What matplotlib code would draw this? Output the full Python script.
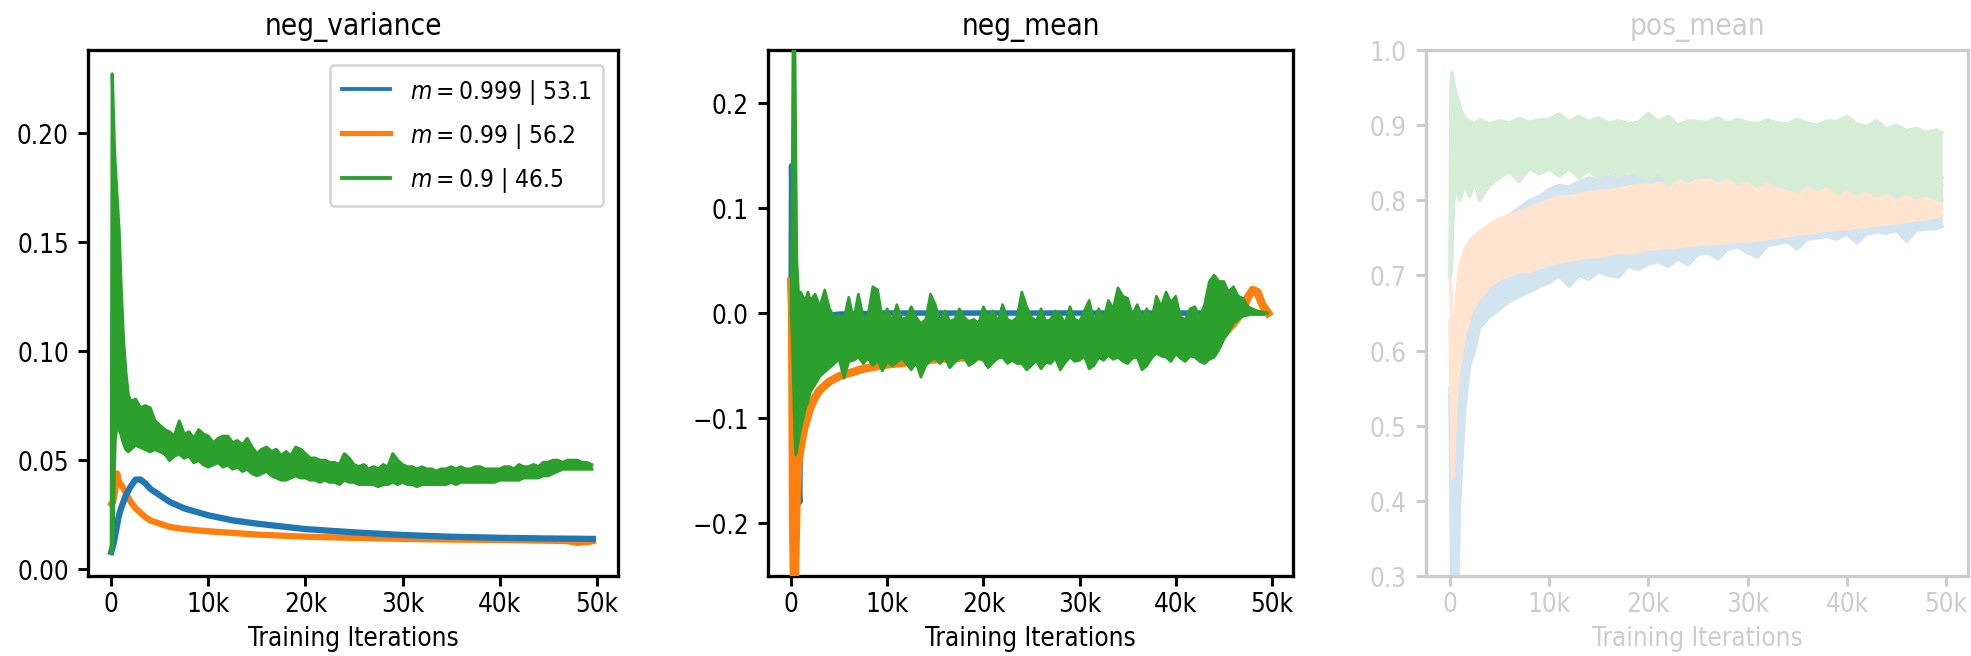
import numpy as np
import matplotlib
matplotlib.use("Agg")
import matplotlib.pyplot as plt
from matplotlib import font_manager
from matplotlib.lines import Line2D
from matplotlib.ticker import FuncFormatter
from matplotlib.colors import to_rgb

# ---------------------------------------------------------------- data
LABELS = [r"$m=0.999$ | 53.1", r"$m=0.99$ | 56.2", r"$m=0.9$ | 46.5"]
BLUE, ORANGE, GREEN = "#1f77b4", "#ff7f0e", "#2ca02c"

# logging steps from 5k on (every 500 iterations)
STEPS_500 = list(range(5000, 50000, 500))

# neg_variance: smooth curves
NV_BLUE_X = [0, 250, 500, 750, 1000, 1500, 2000, 2500, 3000, 3500, 4000, 5000,
             6000, 7500, 10000, 12500, 15000, 20000, 25000, 30000, 35000,
             40000, 45000, 49600]
NV_BLUE_Y = [0.008, 0.012, 0.018, 0.024, 0.028, 0.034, 0.038, 0.0412, 0.0412,
             0.0395, 0.037, 0.034, 0.031, 0.028, 0.0248, 0.0225, 0.021,
             0.0185, 0.017, 0.0158, 0.015, 0.0145, 0.0142, 0.014]
NV_ORANGE_X = [0, 200, 400, 600, 800, 1000, 1250, 1500, 2000, 2500, 3000,
               3500, 4000, 5000, 6000, 7500, 10000, 15000, 20000, 25000,
               30000, 35000, 40000, 45000, 47000, 48000, 49000, 49600]
NV_ORANGE_Y = [0.030, 0.031, 0.036, 0.044, 0.040, 0.039, 0.037, 0.035,
               0.031, 0.028, 0.026, 0.024, 0.0225, 0.021, 0.0195, 0.0185,
               0.0175, 0.016, 0.015, 0.0145, 0.014, 0.0137, 0.0135, 0.0132,
               0.013, 0.0122, 0.0125, 0.013]

# neg_variance: noisy m=0.9 run, extent of its fluctuation
NV_GREEN_X = [0, 100, 200, 300, 400, 600, 800, 1000, 1250, 1500, 1750, 2000,
              2500, 3000, 3500, 4000, 4500] + STEPS_500
NV_GREEN_HI = [0.008, 0.227, 0.210, 0.195, 0.185, 0.170, 0.155, 0.130, 0.105,
               0.090, 0.080, 0.077, 0.078, 0.074, 0.075, 0.074, 0.068,
               0.066, 0.064, 0.063, 0.061, 0.068, 0.062, 0.063, 0.060, 0.064,
               0.062, 0.061, 0.058, 0.060, 0.061, 0.061, 0.058, 0.059, 0.057,
               0.060, 0.056, 0.053, 0.055, 0.056, 0.054, 0.055, 0.052, 0.054,
               0.052, 0.056, 0.055, 0.053, 0.051, 0.051, 0.050, 0.050, 0.049,
               0.049, 0.048, 0.053, 0.051, 0.048, 0.047, 0.048, 0.046, 0.047,
               0.046, 0.048, 0.047, 0.053, 0.050, 0.048, 0.047, 0.047, 0.046,
               0.047, 0.046, 0.046, 0.045, 0.046, 0.046, 0.047, 0.046, 0.047,
               0.046, 0.046, 0.047, 0.047, 0.046, 0.046, 0.046, 0.046, 0.047,
               0.047, 0.046, 0.048, 0.047, 0.047, 0.048, 0.047, 0.049, 0.049,
               0.050, 0.050, 0.049, 0.050, 0.050, 0.050, 0.049, 0.049, 0.048]
NV_GREEN_LO = [0.008, 0.008, 0.020, 0.045, 0.060, 0.066, 0.064, 0.062, 0.058,
               0.055, 0.054, 0.055, 0.057, 0.056, 0.055, 0.054, 0.055,
               0.054, 0.053, 0.050, 0.052, 0.053, 0.051, 0.052, 0.049, 0.050,
               0.048, 0.047, 0.048, 0.049, 0.047, 0.048, 0.046, 0.047, 0.045,
               0.046, 0.044, 0.043, 0.044, 0.045, 0.043, 0.042, 0.041, 0.041,
               0.042, 0.043, 0.042, 0.042, 0.041, 0.041, 0.040, 0.041, 0.040,
               0.040, 0.039, 0.041, 0.040, 0.040, 0.039, 0.039, 0.039, 0.039,
               0.038, 0.039, 0.039, 0.040, 0.039, 0.040, 0.039, 0.039, 0.038,
               0.039, 0.039, 0.039, 0.039, 0.039, 0.039, 0.040, 0.039, 0.040,
               0.040, 0.040, 0.040, 0.040, 0.040, 0.040, 0.040, 0.041, 0.041,
               0.041, 0.041, 0.041, 0.042, 0.042, 0.042, 0.042, 0.043, 0.043,
               0.044, 0.045, 0.046, 0.046, 0.046, 0.046, 0.046, 0.046, 0.046]

# neg_mean
NM_BLUE_X = [0, 50, 150, 300, 600, 900, 1000, 1200, 1500, 2000, 3000, 4000,
             5000, 10000, 20000, 30000, 40000, 49600]
NM_BLUE_Y = [0.0, 0.14, 0.05, -0.05, -0.12, -0.18, -0.10, -0.02, -0.005,
             -0.003, -0.003, -0.002, -0.001, 0.0, 0.0, 0.0, 0.0, 0.0]
NM_ORANGE_X = [0, 100, 200, 300, 400, 500, 600, 800, 1000, 1250, 1500, 2000,
               2500, 3000, 4000, 5000, 7500, 10000, 15000, 20000, 25000,
               30000, 35000, 40000, 43000, 44000, 45000, 46000, 47000, 47500,
               48000, 48500, 49000, 49600]
NM_ORANGE_Y = [0.03, 0.0, -0.20, -0.26, -0.26, -0.21, -0.17, -0.14, -0.128,
               -0.115, -0.105, -0.09, -0.08, -0.073, -0.065, -0.06, -0.053,
               -0.049, -0.044, -0.041, -0.038, -0.035, -0.032, -0.03, -0.028,
               -0.026, -0.02, -0.01, 0.002, 0.015, 0.022, 0.02, 0.008, 0.0]
NM_GREEN_X = [0, 100, 200, 300, 400, 500, 600, 800, 1000, 1250, 1500, 1750,
              2000, 2500, 3000, 3500, 4000, 4500] + STEPS_500
NM_GREEN_HI = [0.0, 0.10, 0.26, 0.27, 0.26, 0.15, 0.05, 0.015, 0.02, 0.015,
               0.012, 0.02, 0.012, 0.018, 0.006, 0.022, 0.004, -0.004,
               -0.002, -0.006, 0.015, -0.006, 0.018, -0.004, -0.002, 0.025,
               0.022, -0.006, 0.004, -0.008, 0.008, -0.006, -0.004, 0.006,
               -0.004, -0.010, -0.006, 0.018, 0.008, -0.008, 0.002, -0.008,
               -0.006, 0.004, -0.004, -0.008, -0.006, -0.010, 0.006, -0.004,
               0.002, -0.008, 0.008, -0.006, -0.008, -0.004, 0.020, 0.006,
               -0.004, -0.008, 0.004, -0.008, -0.006, 0.002, -0.002, -0.010,
               0.006, -0.006, -0.008, 0.002, 0.012, -0.008, 0.004, -0.006,
               0.012, 0.004, 0.024, 0.016, 0.014, -0.002, 0.008, -0.004,
               0.004, -0.006, 0.016, 0.006, 0.020, 0.010, 0.016, -0.004,
               -0.006, 0.004, 0.006, -0.004, 0.008, 0.030, 0.036, 0.030,
               0.030, 0.020, 0.025, 0.016, 0.014, 0.006, 0.004, 0.002, 0.001,
               0.000]
NM_GREEN_LO = [0.0, -0.02, -0.05, -0.09, -0.12, -0.135, -0.13, -0.12, -0.11,
               -0.10, -0.09, -0.085, -0.075, -0.068, -0.060, -0.056, -0.052,
               -0.048,
               -0.044, -0.062, -0.046, -0.045, -0.042, -0.048, -0.043,
               -0.050, -0.045, -0.055, -0.046, -0.050, -0.047, -0.043,
               -0.048, -0.054, -0.047, -0.061, -0.050, -0.045, -0.043,
               -0.048, -0.042, -0.052, -0.047, -0.043, -0.042, -0.050,
               -0.047, -0.043, -0.045, -0.052, -0.047, -0.043, -0.042,
               -0.048, -0.045, -0.048, -0.048, -0.054, -0.050, -0.045,
               -0.053, -0.047, -0.048, -0.043, -0.054, -0.047, -0.042,
               -0.046, -0.045, -0.041, -0.053, -0.050, -0.042, -0.045,
               -0.040, -0.044, -0.042, -0.046, -0.048, -0.043, -0.042,
               -0.054, -0.050, -0.043, -0.038, -0.041, -0.042, -0.046,
               -0.039, -0.043, -0.046, -0.041, -0.042, -0.046, -0.048,
               -0.044, -0.042, -0.035, -0.025, -0.018, -0.010, -0.006,
               -0.003, -0.002, -0.001, -0.001, -0.001, 0.000]

# pos_mean: extent of each run's fluctuation
PM_X = [0, 100, 200, 300, 400, 600, 800, 1000, 1500, 2000, 2500, 3000, 4000,
        5000, 6000, 7000, 8000, 9000, 10000, 11000, 12000, 13000, 14000,
        15000, 16000, 17000, 18000, 19000, 20000, 21000, 22000, 23000, 24000,
        25000, 26000, 27000, 28000, 29000, 30000, 31000, 32000, 33000, 34000,
        35000, 36000, 37000, 38000, 39000, 40000, 41000, 42000, 43000, 44000,
        45000, 46000, 47000, 48000, 49000, 49600]
PM_BLUE_HI = [0.55, 0.50, 0.45, 0.40, 0.45, 0.50, 0.55, 0.60, 0.66, 0.70,
              0.72, 0.735, 0.755, 0.77, 0.78, 0.79, 0.80, 0.805, 0.815, 0.82,
              0.818, 0.825, 0.83, 0.828, 0.832, 0.835, 0.833, 0.836, 0.835,
              0.838, 0.836, 0.84, 0.838, 0.84, 0.838, 0.84, 0.839, 0.84, 0.84,
              0.838, 0.84, 0.839, 0.84, 0.84, 0.838, 0.84, 0.839, 0.84, 0.84,
              0.838, 0.84, 0.839, 0.84, 0.84, 0.838, 0.836, 0.835, 0.835, 0.83]
PM_BLUE_LO = [0.54, 0.40, 0.25, 0.25, 0.25, 0.25, 0.28, 0.40, 0.52, 0.58,
              0.60, 0.63, 0.645, 0.655, 0.665, 0.672, 0.678, 0.685,
              0.69, 0.70, 0.685, 0.70, 0.695, 0.705, 0.70, 0.698, 0.712,
              0.708, 0.715, 0.718, 0.712, 0.722, 0.714, 0.728, 0.73, 0.722,
              0.735, 0.738, 0.73, 0.724, 0.74, 0.742, 0.745, 0.735, 0.748,
              0.75, 0.752, 0.748, 0.755, 0.743, 0.755, 0.758, 0.756, 0.76,
              0.745, 0.76, 0.762, 0.762, 0.765]
PM_ORANGE_HI = [0.70, 0.68, 0.62, 0.60, 0.63, 0.66, 0.69, 0.71, 0.735, 0.745,
                0.752, 0.758, 0.768, 0.775, 0.78, 0.785, 0.79, 0.795, 0.80,
                0.805, 0.805, 0.808, 0.81, 0.812, 0.813, 0.815, 0.818, 0.82,
                0.82, 0.822, 0.823, 0.825, 0.826, 0.826, 0.827, 0.828, 0.828,
                0.828, 0.828, 0.829, 0.83, 0.83, 0.83, 0.83, 0.83, 0.83,
                0.83, 0.83, 0.83, 0.83, 0.83, 0.83, 0.83, 0.83, 0.83, 0.83,
                0.828, 0.828, 0.82]
PM_ORANGE_LO = [0.64, 0.55, 0.45, 0.43, 0.45, 0.52, 0.56, 0.58, 0.62, 0.645,
                0.66, 0.67, 0.685, 0.695, 0.70, 0.705, 0.705, 0.71, 0.715,
                0.718, 0.72, 0.722, 0.725, 0.725, 0.728, 0.73, 0.73, 0.732,
                0.735, 0.736, 0.737, 0.738, 0.74, 0.741, 0.742, 0.743, 0.744,
                0.745, 0.745, 0.747, 0.749, 0.751, 0.753, 0.755, 0.756, 0.758,
                0.76, 0.761, 0.762, 0.764, 0.765, 0.767, 0.768, 0.77, 0.772,
                0.774, 0.776, 0.778, 0.78]
PM_GREEN_HI = [0.70, 0.95, 0.97, 0.965, 0.955, 0.945, 0.935, 0.925, 0.91,
               0.905, 0.902, 0.908, 0.902, 0.906, 0.903, 0.909, 0.904, 0.907,
               0.908, 0.915, 0.905, 0.912, 0.905, 0.910, 0.903, 0.906, 0.902,
               0.904, 0.916, 0.905, 0.912, 0.90, 0.906, 0.905, 0.904, 0.910,
               0.903, 0.908, 0.904, 0.902, 0.907, 0.903, 0.902, 0.908, 0.903,
               0.90, 0.906, 0.905, 0.912, 0.902, 0.898, 0.906, 0.895, 0.900,
               0.893, 0.896, 0.89, 0.894, 0.89]
PM_GREEN_LO = [0.70, 0.70, 0.72, 0.77, 0.80, 0.81, 0.82, 0.80, 0.82, 0.805,
               0.825, 0.80, 0.82, 0.83, 0.838, 0.825, 0.842, 0.835, 0.842,
               0.832, 0.842, 0.83, 0.840, 0.828, 0.838, 0.83, 0.840, 0.832,
               0.826, 0.838, 0.82, 0.832, 0.825, 0.833, 0.835, 0.826, 0.832,
               0.822, 0.828, 0.818, 0.826, 0.82, 0.816, 0.812, 0.822, 0.814,
               0.82, 0.81, 0.816, 0.808, 0.815, 0.806, 0.812, 0.804, 0.81,
               0.803, 0.808, 0.802, 0.80]

# ---------------------------------------------------------------- style
# narrow face of DejaVu Sans if the system has it
condensed = None
for f in font_manager.fontManager.ttflist:
    fn = f.fname.lower()
    if ("dejavusanscondensed.ttf" in fn) or fn.endswith("dejavusans-condensed.ttf"):
        condensed = f
        break

if condensed is not None:
    plt.rcParams["font.family"] = [condensed.name]
    plt.rcParams["font.stretch"] = condensed.stretch
    BASE, TITLE = 9.5, 10.8
else:
    plt.rcParams["font.family"] = ["DejaVu Sans"]
    BASE, TITLE = 8.5, 9.8

plt.rcParams.update({
    "font.size": BASE,
    "axes.linewidth": 1.2,
    "xtick.major.width": 1.1,
    "ytick.major.width": 1.1,
    "xtick.major.pad": 2.0,
    "mathtext.fontset": "dejavusans",
})

FADE = 0.2


def faded(color, alpha=FADE):
    r, g, b = to_rgb(color)
    return (1 - alpha * (1 - r), 1 - alpha * (1 - g), 1 - alpha * (1 - b))


def kfmt(v, _):
    return "0" if abs(v) < 1e-9 else f"{int(round(v / 1000))}k"


def band(ax, x, lo, hi, color, lw=1.2, z=2):
    x, lo, hi = np.asarray(x), np.asarray(lo), np.asarray(hi)
    ax.fill_between(x, lo, hi, color=color, lw=0, zorder=z)
    ax.plot(x, hi, color=color, lw=lw, zorder=z)
    ax.plot(x, lo, color=color, lw=lw, zorder=z)


fig = plt.figure(figsize=(10, 3.333), dpi=197.1)
W, H = 1971, 657


def add_axes(l, r, t=51, b=577):
    return fig.add_axes([l / W, 1 - b / H, (r - l) / W, (b - t) / H])


ax1 = add_axes(88, 618)
ax2 = add_axes(768, 1293)
ax3 = add_axes(1426, 1968)

# --- neg_variance
ax1.plot(NV_BLUE_X, NV_BLUE_Y, color=BLUE, lw=2.3, zorder=3)
ax1.plot(NV_ORANGE_X, NV_ORANGE_Y, color=ORANGE, lw=2.3, zorder=2)
band(ax1, NV_GREEN_X, NV_GREEN_LO, NV_GREEN_HI, GREEN, z=4)
ax1.set_xlim(-2400, 52200)
ax1.set_ylim(-0.003, 0.238)
ax1.set_yticks([0.0, 0.05, 0.10, 0.15, 0.20])
ax1.set_title("neg_variance", fontsize=TITLE)
handles = [Line2D([], [], color=BLUE, lw=1.4),
           Line2D([], [], color=ORANGE, lw=1.9),
           Line2D([], [], color=GREEN, lw=1.4)]
ax1.legend(handles, LABELS, loc="upper right",
           prop={"family": "DejaVu Sans", "size": 8.9},
           labelspacing=0.62, borderpad=0.5, borderaxespad=0.6,
           handlelength=2.0)

# --- neg_mean
ax2.plot(NM_BLUE_X, NM_BLUE_Y, color=BLUE, lw=2.0, zorder=2)
ax2.plot(NM_ORANGE_X, NM_ORANGE_Y, color=ORANGE, lw=3.0, zorder=3)
band(ax2, NM_GREEN_X, NM_GREEN_LO, NM_GREEN_HI, GREEN, lw=1.0, z=4)
ax2.set_xlim(-2400, 52200)
ax2.set_ylim(-0.25, 0.25)
ax2.set_yticks([-0.2, -0.1, 0.0, 0.1, 0.2])
ax2.set_title("neg_mean", fontsize=TITLE)

# --- pos_mean (faded)
band(ax3, PM_X, PM_BLUE_LO, PM_BLUE_HI, faded(BLUE), z=2)
band(ax3, PM_X, PM_ORANGE_LO, PM_ORANGE_HI, faded(ORANGE), z=3)
band(ax3, PM_X, PM_GREEN_LO, PM_GREEN_HI, faded(GREEN), z=4)
ax3.set_xlim(-2400, 52200)
ax3.set_ylim(0.3, 1.0)
ax3.set_yticks([0.3, 0.4, 0.5, 0.6, 0.7, 0.8, 0.9, 1.0])
grey = faded("black")
ax3.set_title("pos_mean", color=grey, fontsize=TITLE)
for s in ax3.spines.values():
    s.set_color(grey)
ax3.tick_params(colors=grey, which="both")

for ax in (ax1, ax2, ax3):
    ax.set_xticks([0, 10000, 20000, 30000, 40000, 50000])
    ax.xaxis.set_major_formatter(FuncFormatter(kfmt))
    ax.set_xlabel("Training Iterations", color=grey if ax is ax3 else "black",
                  labelpad=3.0)

fig.savefig("out.png", dpi=197.1)
